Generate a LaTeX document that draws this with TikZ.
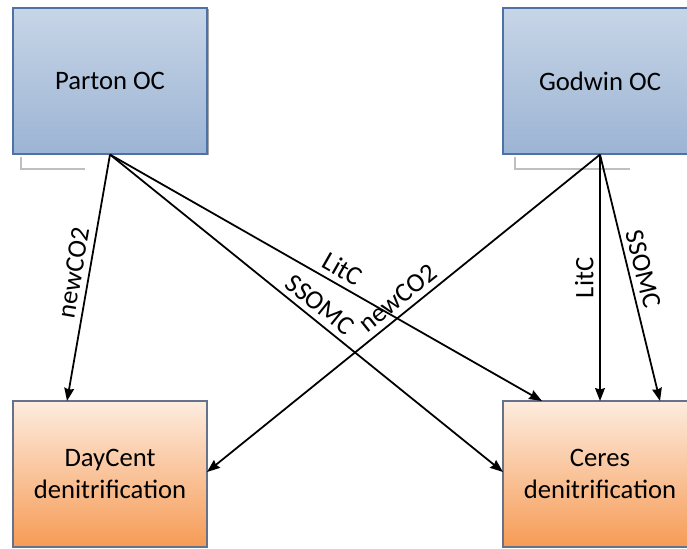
\documentclass[tikz,border=0pt]{standalone}
\usepackage{fontspec}
\setmainfont{Carlito}
\usetikzlibrary{arrows.meta,shadows}
\definecolor{octop}{HTML}{C7D5E7}
\definecolor{ocbot}{HTML}{9CB4D4}
\definecolor{ocline}{HTML}{4E72A6}
\definecolor{dentop}{HTML}{FDECDF}
\definecolor{denbot}{HTML}{F69B55}
\definecolor{denline}{HTML}{66728C}

\begin{document}
\begin{tikzpicture}[>={Stealth[length=5.8pt,width=4.4pt,inset=0.6pt]}, x=0.45pt, y=-0.45pt,
  model/.style={line width=0.5pt, minimum width=87.3pt, minimum height=65.7pt,
    align=center, inner sep=0pt, font=\fontsize{12}{14.4}\selectfont},
  ocbox/.style={model, draw=ocline, top color=octop, bottom color=ocbot,
    drop shadow={shadow xshift=0.8pt, shadow yshift=-0.6pt, fill=black, opacity=0.35}},
  denbox/.style={model, draw=denline, top color=dentop, bottom color=denbot},
  flux/.style={->, line width=0.8pt},
  lab/.style={sloped, above, inner sep=2.5pt, font=\fontsize{12}{14.4}\selectfont},
  ghost/.style={draw=black!25, line width=0.6pt}]
  \useasboundingbox (0,0) rectangle (687,548);
  \clip (0,0) rectangle (687,548);
  % stray outlines under the top boxes
  \draw[ghost] (21,157) -- (21,169) -- (85,169);
  \draw[ghost] (515,157) -- (515,169) -- (630,169);
  % boxes
  \node[ocbox] (parton) at (110,81) {Parton OC};
  \node[ocbox] (godwin) at (600,81) {Godwin OC};
  \node[denbox] (daycent) at (110,474) {DayCent\\denitrification};
  \node[denbox] (ceres) at (600,474) {Ceres\\denitrification};
  % arrow ends
  \coordinate (dctop) at (67,401);
  \coordinate (dcside) at (207,472);
  \coordinate (cetopa) at (542,401);
  \coordinate (cetopb) at (600,401);
  \coordinate (cetopc) at (660,401);
  \coordinate (ceside) at (503,472);
  % fluxes from Parton
  \draw[flux] (parton.south) -- node[lab, pos=0.49] {newCO2} (dctop);
  \draw[flux] (parton.south) -- node[lab, pos=0.52] {LitC} (cetopa);
  \draw[flux] (parton.south) -- node[lab, pos=0.51] {SSOMC} (ceside);
  % fluxes from Godwin
  \draw[flux] (godwin.south) -- node[lab, pos=0.49] {newCO2} (dcside);
  \draw[flux] (godwin.south) -- node[pos=0.5, rotate=90, anchor=south, inner sep=2.5pt,
    font=\fontsize{12}{14.4}\selectfont] {LitC} (cetopb);
  \draw[flux] (godwin.south) -- node[lab, pos=0.48] {SSOMC} (cetopc);
\end{tikzpicture}
\end{document}
